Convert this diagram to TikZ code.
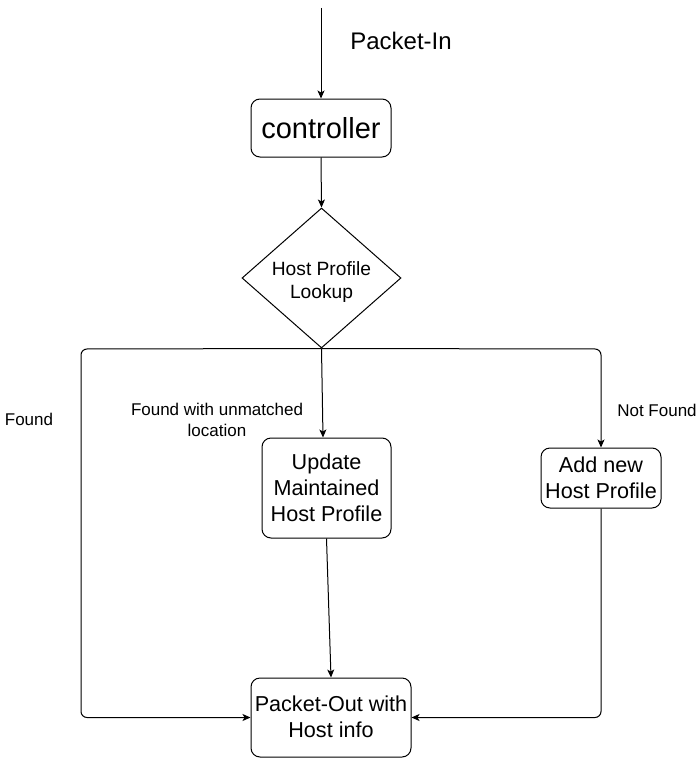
\documentclass[tikz,border=0pt]{standalone}
\usepackage{fontspec}
\setmainfont{Liberation Sans}
\usetikzlibrary{shapes.geometric,arrows.meta}
\newcommand{\fsz}[1]{\fontsize{#1pt}{1.2\dimexpr #1pt\relax}\selectfont}
\newcommand{\lowtext}[2]{\raisebox{-#1}[\height][\depth]{\begin{tabular}{@{}c@{}}#2\end{tabular}}}
\tikzset{
  box/.style={draw, rounded corners=9pt, line width=1pt, align=center, inner sep=0pt},
  arr/.style={-{Stealth[length=8pt,width=7pt,inset=2pt]}, line width=1pt},
  lbl/.style={align=center, inner sep=0pt, font=\fsz{17}},
}
\begin{document}
\begin{tikzpicture}[x=1pt,y=-1pt]
\useasboundingbox (0,0) rectangle (700,760);
% nodes
\node[box, minimum width=140pt, minimum height=58pt, font=\fsz{29}] (ctl) at (321,128) {controller};
\node[draw, diamond, aspect=1.136, minimum width=159pt, minimum height=140pt, inner sep=0pt, align=center, line width=1pt, font=\fsz{19.2}] (dia) at (321.5,278) {\lowtext{4pt}{Host Profile\\Lookup}};
\node[box, minimum width=129pt, minimum height=100pt, font=\fsz{21.6}] (upd) at (326.5,488) {\lowtext{2pt}{Update\\Maintained\\Host Profile}};
\node[box, minimum width=120pt, minimum height=60pt, font=\fsz{21.6}] (add) at (601,478) {\lowtext{2pt}{Add new\\Host Profile}};
\node[box, minimum width=160pt, minimum height=79pt, font=\fsz{21.6}] (po) at (331,717.5) {\lowtext{2pt}{Packet-Out with\\Host info}};
% labels
\node[inner sep=0pt, font=\fsz{24}] (pin) at (401,41) {Packet-In};
\node[lbl] (lfound) at (29,419) {Found};
\node[lbl] (lunm) at (217,420) {Found with unmatched\\location};
\node[lbl] (lnot) at (657,410) {Not Found};
% coordinates
\coordinate (src) at (321,8);
\coordinate (jl) at (81,349);
\coordinate (jr) at (601,349);
\coordinate (bl) at (81,717.5);
\coordinate (br) at (601,717.5);
% connectors
\draw[arr] (src) -- (ctl.north);
\draw[arr] (ctl.south) -- (dia.north);
\draw[arr] (dia.south) -- ([xshift=-3.5pt]upd.north);
\draw[arr] (upd.south) -- (po.north);
\draw[arr, rounded corners=6pt] (dia.south) -- (jl) -- (bl) -- (po.west);
\draw[arr, rounded corners=6pt] (dia.south) -- (jr) -- (add.north);
\draw[arr, rounded corners=6pt] (add.south) -- (br) -- (po.east);
\end{tikzpicture}
\end{document}
